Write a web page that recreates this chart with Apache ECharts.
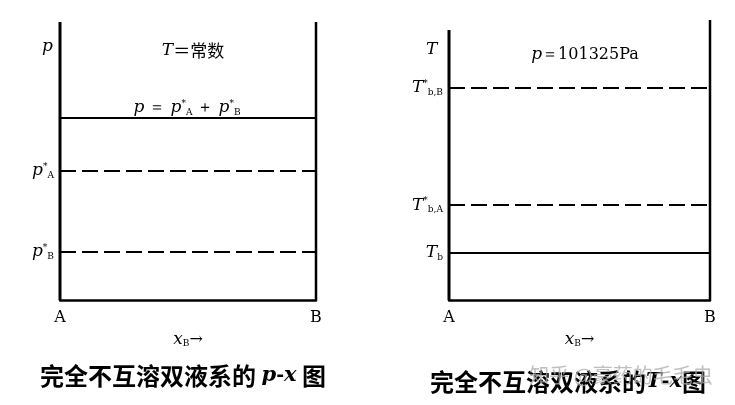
<!DOCTYPE html>
<html>
<head>
<meta charset="utf-8">
<style>
  html, body { margin: 0; padding: 0; background: #fff; }
  #main { width: 735px; height: 405px; }
</style>
<script src="https://cdn.jsdelivr.net/npm/echarts@6/dist/echarts.min.js"></script>
</head>
<body>
<div id="main"></div>
<script>
// 两端: 纯A (x=0) 与 纯B (x=1)
var xEnds = [0, 1];
var xEndLabels = ['A', 'B'];

// p-x 图 (T = 常数), 纵轴 0..100 相对高度
var pxLevels = [65.5, 46.4, 17.3];          // p, p*A, p*B
var pxDashed = [false, true, true];
var pxLabels = ['', '{i|p}{sup|*}{sub|A}', '{i|p}{sup|*}{sub|B}'];

// T-x 图 (p = 101325Pa)
var txLevels = [75.7, 33.9, 16.8];          // T*b,B, T*b,A, Tb
var txDashed = [true, true, false];
var txLabels = ['{i|T}{sup|*}{sub|b,B}', '{i|T}{sup|*}{sub|b,A}', '{i|T}{sub|b}'];

// 两侧竖线高度
var pxEdges = [100, 100];
var txEdges = [96.4, 100];

var serif = '"DejaVu Serif", "Liberation Serif", serif';
var cjk = '"Noto Sans CJK SC", sans-serif';

var richMath = {
    i: { fontFamily: serif, fontStyle: 'italic', fontWeight: 'normal', fontSize: 17, color: '#000', lineHeight: 18 },
    n: { fontFamily: serif, fontWeight: 'normal', fontSize: 16, color: '#000', lineHeight: 18 },
    sup: { fontFamily: serif, fontWeight: 'normal', fontSize: 9, color: '#000', verticalAlign: 'top', lineHeight: 18 },
    sub: { fontFamily: serif, fontWeight: 'normal', fontSize: 9, color: '#000', verticalAlign: 'bottom', lineHeight: 18 },
    c: { fontFamily: cjk, fontWeight: 'normal', fontSize: 17, color: '#000', lineHeight: 18 }
};

var richCaption = {
    i: { fontFamily: serif, fontStyle: 'italic', fontWeight: 'bold', fontSize: 21, color: '#000' },
    b: { fontFamily: serif, fontWeight: 'bold', fontSize: 19, color: '#000' }
};

function edgeSeries(gi, edges) {
    return xEnds.map(function(x, k) {
        return {
            type: 'line',
            xAxisIndex: gi, yAxisIndex: gi,
            symbol: 'none',
            clip: false,
            silent: true,
            lineStyle: { color: '#000', width: k === 0 ? 3 : 2.5 },
            data: [[x, 0], [x, edges[k]]]
        };
    });
}

function levelSeries(gi, levels, dashed, labels) {
    return levels.map(function(v, k) {
        return {
            type: 'line',
            xAxisIndex: gi, yAxisIndex: gi,
            symbol: 'circle',
            symbolSize: 0.1,
            showSymbol: true,
            silent: true,
            itemStyle: { color: '#000' },
            lineStyle: { color: '#000', width: 2, type: dashed[k] ? [16, 6] : 'solid' },
            data: [
                {
                    value: [xEnds[0], v],
                    label: {
                        show: labels[k] !== '',
                        position: 'left',
                        distance: 6,
                        formatter: labels[k],
                        rich: richMath
                    }
                },
                [xEnds[1], v]
            ]
        };
    });
}

function xAxisOf(gi, nameSub) {
    return {
        gridIndex: gi,
        type: 'value',
        min: 0, max: 1, interval: 1,
        axisLine: { lineStyle: { color: '#000', width: 2.5 } },
        axisTick: { show: false },
        splitLine: { show: false },
        axisLabel: {
            margin: 10,
            color: '#000',
            fontFamily: serif,
            fontSize: 16,
            formatter: function(v) { return xEndLabels[xEnds.indexOf(v)]; }
        },
        name: '{i|x}{sub|' + nameSub + '}{n|→}',
        nameLocation: 'middle',
        nameGap: 24,
        nameTextStyle: { rich: richMath }
    };
}

function yAxisOf(gi) {
    return {
        gridIndex: gi,
        type: 'value',
        min: 0, max: 100,
        axisLine: { show: false },
        axisTick: { show: false },
        axisLabel: { show: false },
        splitLine: { show: false }
    };
}

var mathStyle = { fontWeight: 'normal', rich: richMath };
var captionStyle = { fontFamily: cjk, fontSize: 24, fontWeight: 'bold', color: '#000', rich: richCaption };

var myChart = echarts.init(document.getElementById('main'));
var option = {
    backgroundColor: '#fff',
    animation: false,
    grid: [
        { left: 60, width: 256, top: 22, height: 278 },
        { left: 449, width: 261, top: 20, height: 280 }
    ],
    xAxis: [xAxisOf(0, 'B'), xAxisOf(1, 'B')],
    yAxis: [yAxisOf(0), yAxisOf(1)],
    title: [
        { text: '{i|p}', left: 37, top: 33, textStyle: mathStyle },
        { text: '{i|T}{c|＝常数}', left: 188, top: 37, textAlign: 'center', textStyle: mathStyle },
        { text: '{i|p}{n| ＝ }{i|p}{sup|*}{sub|A}{n| ＋ }{i|p}{sup|*}{sub|B}', left: 182, top: 94, textAlign: 'center', textStyle: mathStyle },
        { text: '{i|T}', left: 421, top: 36, textStyle: mathStyle },
        { text: '{i|p}{n|＝101325Pa}', left: 580, top: 41, textAlign: 'center', textStyle: mathStyle },
        { text: '完全不互溶双液系的 {i|p}{b|-}{i|x} 图', left: 178, top: 359, textAlign: 'center', textStyle: captionStyle },
        { text: '完全不互溶双液系的{i|T}{b|-}{i|x}图', left: 563, top: 365, textAlign: 'center', textStyle: captionStyle },
        {
            text: '知乎 @豪药的毛毛虫',
            left: 616, top: 360, textAlign: 'center', z: 10,
            textStyle: { fontFamily: cjk, fontSize: 20, fontWeight: 'normal', color: 'rgba(170,170,170,0.75)' }
        }
    ],
    series: [].concat(
        edgeSeries(0, pxEdges),
        levelSeries(0, pxLevels, pxDashed, pxLabels),
        edgeSeries(1, txEdges),
        levelSeries(1, txLevels, txDashed, txLabels)
    )
};
myChart.setOption(option);
</script>
</body>
</html>
